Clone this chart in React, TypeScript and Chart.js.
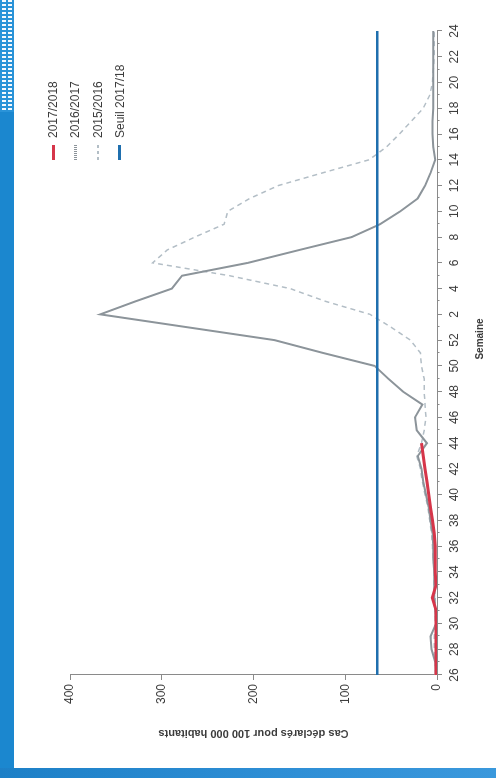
import React, { useEffect, useRef } from 'react';
import { Chart, registerables } from 'chart.js';

Chart.register(...registerables);

// Weeks (from week 26 to week 24 of the next year)
const WEEKS = [
  '26', '27', '28', '29', '30', '31', '32', '33', '34', '35', '36', '37', '38', '39', '40', '41', '42',
  '43', '44', '45', '46', '47', '48', '49', '50', '51', '52', '1', '2', '3', '4', '5', '6', '7', '8',
  '9', '10', '11', '12', '13', '14', '15', '16', '17', '18', '19', '20', '21', '22', '23', '24',
];

const S_2017_2018 = [
  1, 1, 1, 1, 1, 1, 5, 1, 2, 2, 2, 3, 5, 7, 9, 11, 13, 15, 17,
  null, null, null, null, null, null, null, null, null, null, null, null, null, null, null, null, null,
  null, null, null, null, null, null, null, null, null, null, null, null, null, null, null,
];

const S_2016_2017 = [
  1, 2, 6, 7, 1, 2, 3, 3, 3, 4, 4, 5, 7, 9, 12, 15, 17, 21, 11, 22, 24, 16, 37, 53, 68, 124, 177,
  272, 367, 329, 289, 278, 206, 150, 93, 62, 40, 21, 13, 7, 2, 4, 5, 5, 4, 4, 4, 4, 4, 4, 4,
];

const S_2015_2016 = [
  2, 2, 3, 3, 2, 2, 2, 3, 3, 4, 5, 6, 8, 10, 13, 16, 18, 22, 17, 14, 12, 13, 14, 14, 17, 18, 29,
  50, 73, 121, 160, 226, 310, 294, 264, 232, 228, 204, 173, 124, 74, 55, 41, 28, 15, 8, 5, 4, 3, 3, 3,
];

const SEUIL_2017_18 = 65;
const Y_TICKS = [0, 100, 200, 300, 400];

const LEGEND = [
  { label: '2017/2018', kind: 'red' },
  { label: '2016/2017', kind: 'dotted' },
  { label: '2015/2016', kind: 'dashed' },
  { label: 'Seuil 2017/18', kind: 'blue' },
];

const FONT = '"Liberation Sans", Arial, sans-serif';
const W = 768;
const H = 482;

const COLORS = {
  red: '#d6364a',
  grey: '#8c949a',
  light: '#b3bec6',
  blue: '#1f6fae',
  axis: '#8a8a8a',
  text: '#3c3c3c',
};

const extras = {
  id: 'extras',
  afterDraw(chart: any) {
    const x = chart.scales.x;
    const ctx = chart.ctx;
    ctx.save();
    ctx.strokeStyle = COLORS.axis;
    ctx.lineWidth = 1;
    WEEKS.forEach((_w, i) => {
      if (i % 2 === 1) {
        const px = Math.round(x.getPixelForValue(i)) + 0.5;
        ctx.beginPath();
        ctx.moveTo(px, x.top);
        ctx.lineTo(px, x.top + 2.5);
        ctx.stroke();
      }
    });
    const ca = chart.chartArea;
    ctx.fillStyle = COLORS.text;
    ctx.font = `bold 10px ${FONT}`;
    ctx.textAlign = 'center';
    ctx.textBaseline = 'middle';
    ctx.fillText('Semaine', (ca.left + ca.right) / 2 + 14, 466);
    ctx.restore();
  },
};

function ChartCanvas() {
  const ref = useRef<HTMLCanvasElement | null>(null);
  useEffect(() => {
    if (!ref.current) return;
    const chart = new Chart(ref.current, {
      type: 'line',
      data: {
        labels: WEEKS,
        datasets: [
          {
            label: '2015/2016',
            data: S_2015_2016,
            borderColor: COLORS.light,
            borderWidth: 1.5,
            borderDash: [5, 4],
            pointRadius: 0,
            tension: 0,
            order: 3,
          },
          {
            label: '2016/2017',
            data: S_2016_2017,
            borderColor: COLORS.grey,
            borderWidth: 2,
            pointRadius: 0,
            tension: 0,
            order: 2,
          },
          {
            label: '2017/2018',
            data: S_2017_2018,
            borderColor: COLORS.red,
            borderWidth: 3,
            pointRadius: 0,
            tension: 0,
            spanGaps: false,
            order: 1,
          },
          {
            label: 'Seuil 2017/18',
            data: [
              { x: WEEKS[0], y: SEUIL_2017_18 },
              { x: WEEKS[WEEKS.length - 1], y: SEUIL_2017_18 },
            ] as any,
            borderColor: COLORS.blue,
            borderWidth: 2.5,
            pointRadius: 0,
            order: 0,
          },
        ],
      },
      options: {
        responsive: false,
        animation: false,
        devicePixelRatio: 1,
        layout: { padding: { top: 56, right: 31, left: 0, bottom: 0 } },
        plugins: {
          legend: { display: false },
          tooltip: { enabled: false },
        },
        scales: {
          x: {
            type: 'category',
            offset: false,
            grid: {
              drawOnChartArea: false,
              drawTicks: true,
              tickLength: 5,
              color: (c: any) => (c.index % 2 === 0 ? COLORS.axis : 'rgba(0,0,0,0)'),
            },
            border: { display: true, color: COLORS.axis, width: 1 },
            ticks: {
              autoSkip: false,
              maxRotation: 0,
              minRotation: 0,
              padding: 5,
              color: COLORS.text,
              font: { family: FONT, size: 12 },
              callback: (_v: any, i: number) => (i % 2 === 0 ? WEEKS[i] : ''),
            },
            afterFit: (s: any) => {
              s.height = 59;
            },
          },
          y: {
            min: Y_TICKS[0],
            max: Y_TICKS[Y_TICKS.length - 1],
            grid: { drawOnChartArea: false, drawTicks: true, tickLength: 5, color: COLORS.axis },
            border: { display: true, color: COLORS.axis, width: 1 },
            ticks: {
              stepSize: 100,
              padding: 4,
              color: COLORS.text,
              font: { family: FONT, size: 12 },
            },
            title: {
              display: true,
              text: 'Cas déclarés pour 100 000 habitants',
              color: COLORS.text,
              font: { family: FONT, size: 11, weight: 'bold' },
              padding: { top: 28, bottom: 0 },
            },
            afterFit: (s: any) => {
              s.width = 93;
            },
          },
        },
      },
      plugins: [extras],
    });
    return () => chart.destroy();
  }, []);
  return <canvas ref={ref} width={W} height={H} style={{ display: 'block', width: W, height: H }} />;
}

function LegendSample({ kind }: { kind: string }) {
  const base: React.CSSProperties = { position: 'absolute', left: 0, top: -1.5, width: 15, height: 3 };
  if (kind === 'red') return <div style={{ ...base, background: COLORS.red }} />;
  if (kind === 'blue') return <div style={{ ...base, background: COLORS.blue }} />;
  if (kind === 'dotted')
    return (
      <div
        style={{
          ...base,
          background: `repeating-linear-gradient(to right, ${COLORS.grey} 0 1px, transparent 1px 2px)`,
        }}
      />
    );
  return (
    <div
      style={{
        ...base,
        height: 2,
        top: -1,
        background: `repeating-linear-gradient(to right, ${COLORS.light} 0 3px, transparent 3px 6px)`,
      }}
    />
  );
}

export default function App() {
  return (
    <div
      style={{
        position: 'fixed',
        left: 0,
        top: 0,
        width: 496,
        height: 778,
        background: '#ffffff',
        overflow: 'hidden',
        fontFamily: FONT,
      }}
    >
      {/* blue frame */}
      <div style={{ position: 'absolute', left: 0, top: 0, width: 14, height: 778, background: '#1b87cf' }} />
      <div style={{ position: 'absolute', left: 0, top: 0, width: 14, height: 112, background: '#2a93d8' }}>
        {[2, 8].map((l) => (
          <div
            key={l}
            style={{
              position: 'absolute',
              left: l,
              top: 0,
              width: 4,
              height: 112,
              background: 'repeating-linear-gradient(to bottom, rgba(255,255,255,0.95) 0 2px, transparent 2px 4px)',
            }}
          />
        ))}
      </div>
      <div
        style={{
          position: 'absolute',
          left: 0,
          top: 768,
          width: 496,
          height: 10,
          background: 'linear-gradient(to right, #1d80c7, #2f8fd6 60%, #3a98dc)',
        }}
      />
      {/* rotated chart */}
      <div
        style={{
          position: 'absolute',
          left: 14,
          top: 768,
          width: W,
          height: H,
          transformOrigin: '0 0',
          transform: 'rotate(-90deg)',
        }}
      >
        <ChartCanvas />
        {LEGEND.map((item, i) => (
          <div key={item.label} style={{ position: 'absolute', left: 608, top: 39 + i * 22.3, height: 0 }}>
            <LegendSample kind={item.kind} />
            <div
              style={{
                position: 'absolute',
                left: 22,
                top: -8,
                lineHeight: '16px',
                fontSize: 12,
                color: COLORS.text,
                whiteSpace: 'nowrap',
              }}
            >
              {item.label}
            </div>
          </div>
        ))}
      </div>
    </div>
  );
}
